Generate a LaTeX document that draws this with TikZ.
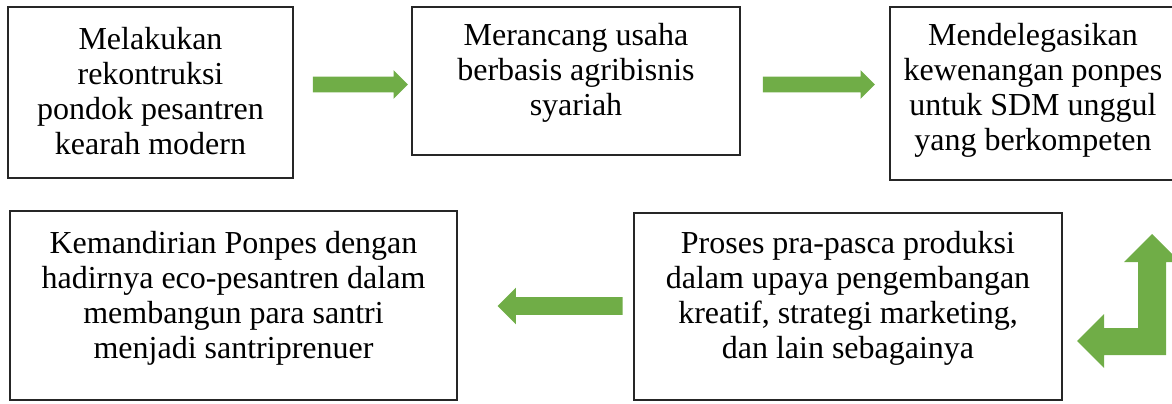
\documentclass[tikz,border=0pt]{standalone}
\usepackage{fontspec}
\setmainfont{Liberation Serif}
\usetikzlibrary{positioning, shapes.arrows}
\definecolor{arrowgreen}{RGB}{112,173,71}

\begin{document}
\begin{tikzpicture}[x=0.5pt, y=-0.5pt]
   \tikzset{box/.style={draw=black!85, line width=0.6pt, inner sep=0pt},
     txt/.style={align=center, inner sep=0pt, font=\fontsize{16pt}{17.6pt}\selectfont},
     flow/.style={single arrow, fill=arrowgreen, draw=none, inner xsep=0pt, inner ysep=3.75pt, minimum width=14pt, single arrow head extend=3.25pt}}
  \useasboundingbox (0,0) rectangle (1172,403);
  \node[box, minimum width=142.5pt, minimum height=85.5pt] (b1) at (150.5,92.5) {};
  \node[box, minimum width=164pt, minimum height=74pt] (b2) at (576,81) {};
  \node[box, minimum width=143pt, minimum height=86.5pt] (b3) at (1033,93.5) {};
  \node[box, minimum width=223.5pt, minimum height=94.5pt] (b4) at (233.5,305.5) {};
  \node[box, minimum width=214pt, minimum height=93.5pt] (b5) at (848,306.5) {};
  \node[txt, below=10pt of b1.north] (t1) {Melakukan\\rekontruksi\\pondok pesantren\\kearah modern};
  \node[txt, below=8pt of b2.north] (t2) {Merancang usaha\\berbasis agribisnis\\syariah};
  \node[txt, below=8pt of b3.north] (t3) {Mendelegasikan\\kewenangan ponpes\\untuk SDM unggul\\yang berkompeten};
  \node[txt, below=10pt of b4.north] (t4) {Kemandirian Ponpes dengan\\hadirnya eco-pesantren dalam\\membangun para santri\\menjadi santriprenuer};
  \node[txt, below=9pt of b5.north] (t5) {Proses pra-pasca produksi\\dalam upaya pengembangan\\kreatif, strategi marketing,\\dan lain sebagainya};
  \node[flow, minimum height=47.5pt] (a1) at (356.5,84.5) {};
  \node[flow, minimum height=56pt] (a2) at (815,84.5) {};
  \node[flow, minimum height=62.5pt, inner ysep=4.25pt, minimum width=18pt, single arrow head extend=4.75pt, shape border rotate=180] (a3) at (564.5,306) {};
  \fill[arrowgreen] (1152,234) -- (1180,262) -- (1166,262) -- (1166,355) -- (1104,355) -- (1104,368)
    -- (1077,341) -- (1104,314) -- (1104,328) -- (1138,328) -- (1138,262) -- (1124,262) -- cycle;
\end{tikzpicture}
\end{document}
